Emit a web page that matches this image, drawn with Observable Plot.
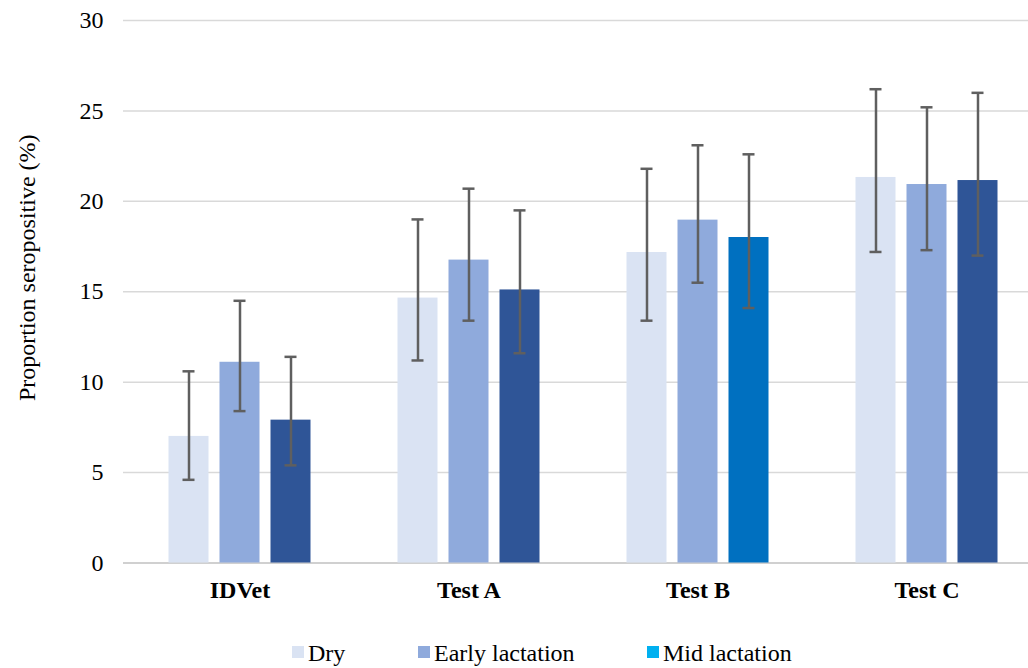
<!DOCTYPE html>
<html>
<head>
<meta charset="utf-8">
<script src="https://cdn.jsdelivr.net/npm/d3@7"></script>
<script src="https://cdn.jsdelivr.net/npm/@observablehq/plot@0.6"></script>
<style>
  html, body { margin: 0; padding: 0; background: #fff; overflow: hidden; }
  #wrap { position: relative; width: 1028px; height: 668px; font-family: "Liberation Serif", "Times New Roman", serif; }
  #legend { position: absolute; left: 0; top: 620px; width: 1028px; height: 48px; font-size: 24px; color: #000; }
  #legend .sw { position: absolute; width: 12px; height: 12px; top: 26px; }
  #legend .lb { position: absolute; top: 21px; line-height: 24px; white-space: nowrap; }
</style>
</head>
<body>
<div id="wrap"><div id="chart"></div><div id="legend"></div></div>
<script>
const tests = ["IDVet", "Test A", "Test B", "Test C"];
const stages = ["Dry", "Early lactation", "Mid lactation"];

const dry     = [7.0, 14.65, 17.17, 21.32];
const dryLo   = [4.6, 11.2, 13.4, 17.2];
const dryHi   = [10.6, 19.0, 21.8, 26.2];
const early   = [11.1, 16.75, 18.96, 20.93];
const earlyLo = [8.4, 13.4, 15.5, 17.3];
const earlyHi = [14.5, 20.7, 23.1, 25.2];
const mid     = [7.9, 15.1, 18.0, 21.15];
const midLo   = [5.4, 11.6, 14.1, 17.0];
const midHi   = [11.4, 19.5, 22.6, 26.0];

const yTicks = [0, 5, 10, 15, 20, 25, 30];
const yLabel = "Proportion seropositive (%)";

// styles
const stageColors = ["#DAE3F3", "#8FAADC", "#2F5597"];
const midBarColors = ["#2F5597", "#2F5597", "#0070C0", "#2F5597"];
const legendColors = ["#DAE3F3", "#8FAADC", "#00B0F0"];
const offsets = [-51, 0, 51];

const series = [
  {v: dry, lo: dryLo, hi: dryHi},
  {v: early, lo: earlyLo, hi: earlyHi},
  {v: mid, lo: midLo, hi: midHi}
];

const rows = [];
series.forEach((s, si) => {
  tests.forEach((t, i) => {
    rows.push({test: t, stage: stages[si], si, value: s.v[i], lo: s.lo[i], hi: s.hi[i],
      color: si === 2 ? midBarColors[i] : stageColors[si]});
  });
});

const bandW = 229;
const barW = 40;
const capW = 12;
const ERR = "#5f5f5f";

const marks = [
  Plot.ruleY(yTicks.filter(d => d > 0), {stroke: "#d9d9d9", strokeWidth: 1.5}),
  Plot.ruleY([0], {stroke: "#d0d0d0", strokeWidth: 2})
];
[0, 1, 2].forEach(si => {
  const data = rows.filter(r => r.si === si);
  const ins = (bandW - barW) / 2;
  marks.push(Plot.barY(data, {x: "test", y: "value", fill: "color", dx: offsets[si], insetLeft: ins, insetRight: ins}));
});
[0, 1, 2].forEach(si => {
  const data = rows.filter(r => r.si === si);
  const cins = (bandW - capW) / 2;
  marks.push(Plot.ruleX(data, {x: "test", y1: "lo", y2: "hi", stroke: ERR, strokeWidth: 2.5, dx: offsets[si]}));
  marks.push(Plot.tickY(data, {x: "test", y: "lo", stroke: ERR, strokeWidth: 2.5, dx: offsets[si], insetLeft: cins, insetRight: cins}));
  marks.push(Plot.tickY(data, {x: "test", y: "hi", stroke: ERR, strokeWidth: 2.5, dx: offsets[si], insetLeft: cins, insetRight: cins}));
});
marks.push(Plot.axisY({ticks: yTicks, tickSize: 0, tickPadding: 20, fontSize: 24, fill: "#000", label: null}));
marks.push(Plot.axisX({tickSize: 0, tickPadding: 18, fontSize: 24, fontWeight: "bold", fill: "#000", label: null}));
marks.push(Plot.text([yLabel], {frameAnchor: "left", text: d => d, rotate: -90, dx: -96, dy: -24, fontSize: 24, fill: "#000", textAnchor: "middle", lineAnchor: "middle"}));

const chart = Plot.plot({
  width: 1028,
  height: 620,
  marginLeft: 123,
  marginRight: 0,
  marginTop: 20,
  marginBottom: 57.5,
  style: {fontFamily: "'Liberation Serif', 'Times New Roman', serif", fontSize: "24px", background: "#fff", color: "#000", overflow: "hidden"},
  x: {domain: tests, range: [124.5, 1040.5], padding: 0, axis: null},
  y: {domain: [0, 30], axis: null},
  marks
});
document.getElementById("chart").appendChild(chart);

// legend
const legendPos = [292, 418, 647];
const leg = document.getElementById("legend");
stages.forEach((s, i) => {
  const sw = document.createElement("div");
  sw.className = "sw";
  sw.style.left = legendPos[i] + "px";
  sw.style.background = legendColors[i];
  leg.appendChild(sw);
  const lb = document.createElement("div");
  lb.className = "lb";
  lb.style.left = (legendPos[i] + 16) + "px";
  lb.textContent = s;
  leg.appendChild(lb);
});
</script>
</body>
</html>
